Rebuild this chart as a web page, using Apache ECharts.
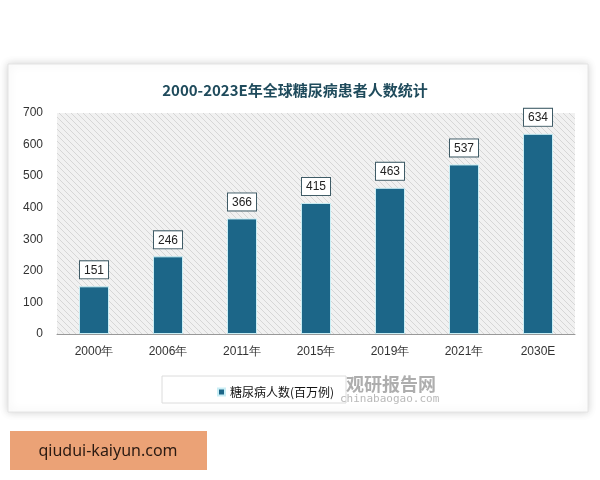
<!DOCTYPE html>
<html>
<head>
<meta charset="utf-8">
<script src="https://cdn.jsdelivr.net/npm/echarts@6/dist/echarts.min.js"></script>
<style>
  html, body { margin: 0; padding: 0; background: #fff; }
  #chart { width: 600px; height: 480px; }
</style>
</head>
<body>
<div id="chart"></div>
<script>
var categories = ['2000年', '2006年', '2011年', '2015年', '2019年', '2021年', '2030E'];
var patients = [151, 246, 366, 415, 463, 537, 634];
var yTicks = [0, 100, 200, 300, 400, 500, 600, 700];

// hatched plot background
var hatch = document.createElement('canvas');
hatch.width = 6; hatch.height = 6;
var hc = hatch.getContext('2d');
hc.fillStyle = '#f1f1f1';
hc.fillRect(0, 0, 6, 6);
hc.strokeStyle = '#d6d6d6';
hc.lineWidth = 1;
hc.beginPath();
hc.moveTo(0, 0); hc.lineTo(6, 6);
hc.moveTo(-3, 3); hc.lineTo(3, 9);
hc.moveTo(3, -3); hc.lineTo(9, 3);
hc.stroke();

var chart = echarts.init(document.getElementById('chart'));

chart.setOption({
    backgroundColor: '#fff',
    animation: false,
    title: {
        text: '2000-2023E年全球糖尿病患者人数统计',
        left: 290,
        textAlign: 'center',
        top: 78,
        textStyle: { fontSize: 15, fontWeight: 'bold', color: '#1f4b5c', fontFamily: '"Noto Sans CJK SC", sans-serif' }
    },
    legend: {
        left: 212,
        top: 381,
        itemWidth: 7,
        itemHeight: 7,
        itemGap: 4,
        textStyle: { fontSize: 12, color: '#111', fontFamily: '"Noto Sans CJK SC", sans-serif' },
        data: [{ name: '糖尿病人数(百万例)', icon: 'rect' }]
    },
    grid: {
        left: 57, right: 25, top: 113, bottom: 146,
        show: true,
        borderWidth: 0,
        backgroundColor: { image: hatch, repeat: 'repeat' }
    },
    xAxis: {
        type: 'category',
        data: categories,
        axisLine: { lineStyle: { color: '#999' } },
        axisTick: { show: false },
        axisLabel: { color: '#333', fontSize: 12, margin: 12 }
    },
    yAxis: {
        type: 'value',
        min: yTicks[0],
        max: yTicks[yTicks.length - 1],
        interval: 100,
        splitLine: { show: false },
        axisLine: { show: false },
        axisTick: { show: false },
        axisLabel: { color: '#333', fontSize: 12, margin: 14 }
    },
    series: [{
        name: '糖尿病人数(百万例)',
        type: 'bar',
        data: patients,
        barWidth: 30,
        itemStyle: {
            color: '#1c6688',
            borderColor: '#c9eef5',
            borderWidth: 1
        },
        label: {
            show: true,
            position: 'top',
            distance: 8,
            color: '#222',
            fontSize: 12,
            backgroundColor: '#fff',
            borderColor: '#3f5b66',
            borderWidth: 1,
            padding: [3, 4, 2, 4]
        }
    }],
    graphic: [
        {
            type: 'rect', z: -10, silent: true,
            shape: { x: 8, y: 64, width: 580, height: 348 },
            style: { fill: '#fff', stroke: '#e4e4e4', lineWidth: 1, shadowBlur: 8, shadowColor: 'rgba(0,0,0,0.18)' }
        },
        {
            type: 'rect', z: -5, silent: true,
            shape: { x: 162, y: 376, width: 184, height: 27 },
            style: { fill: '#fff', stroke: '#dcdcdc', lineWidth: 1 }
        },
        {
            type: 'text', silent: true,
            style: { x: 346, y: 375, text: '观研报告网', fill: '#9a9a9a', font: 'bold 18px "Noto Sans CJK SC"', opacity: 0.8 }
        },
        {
            type: 'text', silent: true,
            style: { x: 340, y: 394, text: 'chinabaogao.com', fill: '#a8a8a8', font: '11px "DejaVu Sans Mono"', opacity: 0.8 }
        },
        {
            type: 'rect', silent: true,
            shape: { x: 10, y: 431, width: 197, height: 39 },
            style: { fill: '#eba276' }
        },
        {
            type: 'text', silent: true,
            style: { x: 108, y: 451, text: 'qiudui-kaiyun.com', fill: '#2a1a12', font: '16px "Noto Sans"', textAlign: 'center', textVerticalAlign: 'middle' }
        }
    ]
});
</script>
</body>
</html>
